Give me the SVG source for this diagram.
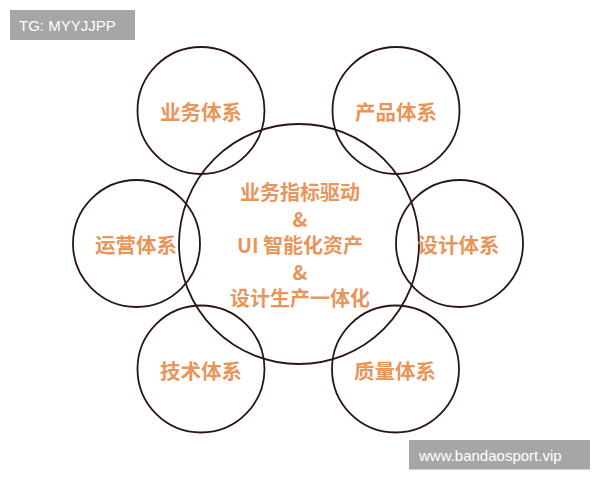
<svg xmlns="http://www.w3.org/2000/svg" width="600" height="480" viewBox="0 0 600 480">
<style>
.c{fill:none;stroke:#2b1512;stroke-width:1.8}
.l{font-family:"Noto Sans CJK SC","Noto Sans",sans-serif;font-size:20.5px;font-weight:bold;fill:#E8955A;text-anchor:middle;dominant-baseline:central}
.m{font-size:20px}
.w{font-family:"Liberation Sans",Arial,sans-serif;font-size:15px;fill:#ffffff;dominant-baseline:central}
</style>
<rect width="600" height="480" fill="#ffffff"/>
<g id="watermark-top"><rect x="10" y="10" width="125" height="30" fill="#a6a6a6"/><text class="w" x="19" y="25">TG: MYYJJPP</text></g>
<g id="connectors"></g>
<g id="center"><circle class="c" cx="299" cy="244" r="120"/>
<text class="l m" x="300" y="191.5">业务指标驱动</text>
<text class="l m" x="300" y="218">&amp;</text>
<text class="l m" x="300" y="244.5">UI 智能化资产</text>
<text class="l m" x="300" y="271">&amp;</text>
<text class="l m" x="300" y="297.5">设计生产一体化</text></g>
<g id="yewu"><circle class="c" cx="201" cy="110.5" r="63.5"/><text class="l" x="201" y="111">业务体系</text></g>
<g id="chanpin"><circle class="c" cx="396" cy="110.5" r="63.5"/><text class="l" x="396" y="111">产品体系</text></g>
<g id="yunying"><circle class="c" cx="136.5" cy="243.5" r="63.5"/><text class="l" x="136" y="244">运营体系</text></g>
<g id="sheji"><circle class="c" cx="459.5" cy="243.5" r="63.5"/><text class="l" x="458.5" y="244">设计体系</text></g>
<g id="jishu"><circle class="c" cx="201" cy="369" r="63.5"/><text class="l" x="201" y="369.5">技术体系</text></g>
<g id="zhiliang"><circle class="c" cx="395.5" cy="369" r="63.5"/><text class="l" x="395" y="369.5">质量体系</text></g>
<g id="watermark-bottom"><rect x="409" y="440" width="181" height="29.5" fill="#a6a6a6"/><text class="w" x="419" y="455">www.bandaosport.vip</text></g>
</svg>
